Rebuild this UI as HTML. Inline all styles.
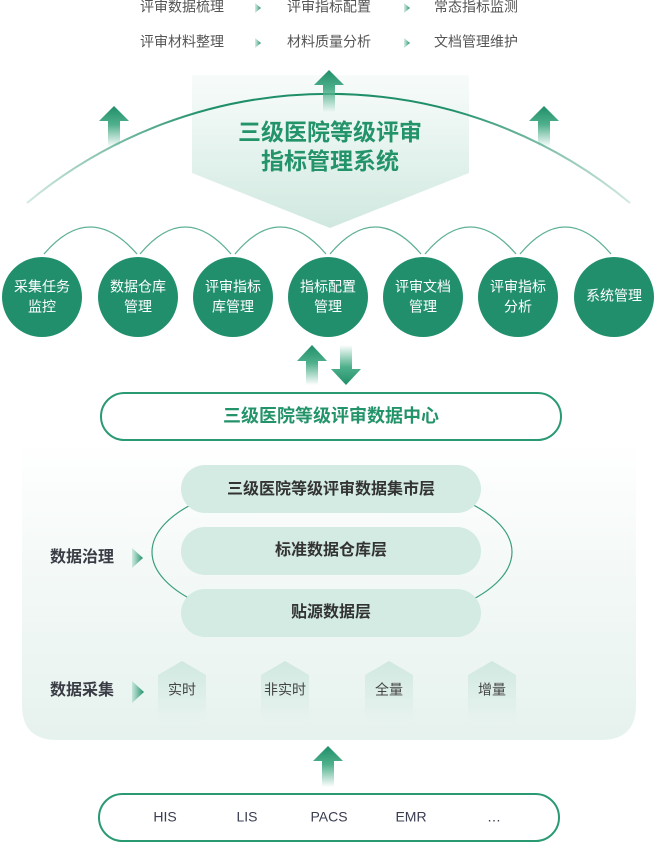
<!DOCTYPE html>
<html><head><meta charset="utf-8"><style>
body{margin:0;background:#fff;}
svg text{font-family:"Liberation Sans","Noto Sans CJK SC",sans-serif;}
</style></head><body>
<svg width="658" height="843" viewBox="0 0 658 843" xmlns="http://www.w3.org/2000/svg">
<defs>
<linearGradient id="up" x1="0" y1="0" x2="0" y2="1"><stop offset="0" stop-color="#1f8f68"/><stop offset="0.45" stop-color="#4fb08c"/><stop offset="1" stop-color="#4fb08c" stop-opacity="0"/></linearGradient>
<linearGradient id="dn" x1="0" y1="1" x2="0" y2="0"><stop offset="0" stop-color="#1f8f68"/><stop offset="0.45" stop-color="#4fb08c"/><stop offset="1" stop-color="#4fb08c" stop-opacity="0"/></linearGradient>
<linearGradient id="chev" x1="0" y1="0" x2="0" y2="1"><stop offset="0" stop-color="#d8ede5" stop-opacity="0.2"/><stop offset="1" stop-color="#cfe8df"/></linearGradient>
<linearGradient id="panel" x1="0" y1="0" x2="0" y2="1"><stop offset="0" stop-color="#ffffff"/><stop offset="0.5" stop-color="#f2f8f6"/><stop offset="1" stop-color="#e6f2ee"/></linearGradient>
<linearGradient id="house" x1="0" y1="0" x2="0" y2="1"><stop offset="0" stop-color="#cfe8df"/><stop offset="1" stop-color="#cfe8df" stop-opacity="0"/></linearGradient>
<linearGradient id="tri" x1="0" y1="0" x2="1" y2="0"><stop offset="0" stop-color="#3aa57f" stop-opacity="0.2"/><stop offset="1" stop-color="#1f8f68"/></linearGradient>
<linearGradient id="arcg" x1="0" y1="0" x2="1" y2="0"><stop offset="0" stop-color="#1f8f68" stop-opacity="0.2"/><stop offset="0.3" stop-color="#1f8f68"/><stop offset="0.7" stop-color="#1f8f68"/><stop offset="1" stop-color="#1f8f68" stop-opacity="0.2"/></linearGradient>
</defs>

<!-- top text -->
<g font-size="14" fill="#555" dominant-baseline="middle">
<text x="140" y="8">评审数据梳理</text><text x="287" y="8">评审指标配置</text><text x="434" y="8">常态指标监测</text>
<text x="140" y="43">评审材料整理</text><text x="287" y="43">材料质量分析</text><text x="434" y="43">文档管理维护</text>
</g>
<g fill="url(#tri)">
<polygon points="255,3 261,8 255,13"/><polygon points="404,3 410,8 404,13"/>
<polygon points="255,38 261,43 255,48"/><polygon points="404,38 410,43 404,48"/>
</g>

<!-- chevron -->
<polygon points="192,75 469,75 469,173 330,228 192,173" fill="url(#chev)"/>
<!-- big arc -->
<path d="M27,203 A471,471 0 0 1 630,203" fill="none" stroke="url(#arcg)" stroke-width="2"/>
<!-- up arrows -->
<g fill="url(#up)">
<polygon points="329,70 344,85 335,85 335,112 323,112 323,85 314,85"/>
<polygon points="114,106 129,121 120,121 120,147 108,147 108,121 99,121"/>
<polygon points="544,106 559,121 550,121 550,147 538,147 538,121 529,121"/>
</g>
<g font-size="23" font-weight="bold" fill="#23936a" text-anchor="middle" dominant-baseline="middle">
<text x="330" y="134">三级医院等级评审</text><text x="330" y="163">指标管理系统</text>
</g>

<!-- small arcs -->
<g fill="none" stroke="#3a9e7b" stroke-width="1.3" opacity="0.8">
<path d="M44,254 Q90,200 137,254"/><path d="M140,254 Q185,200 231,254"/><path d="M235,254 Q280,200 326,254"/>
<path d="M330,254 Q375,200 421,254"/><path d="M425,254 Q470,200 516,254"/><path d="M520,254 Q565,200 611,254"/>
</g>
<!-- circles -->
<g fill="#218f6c">
<circle cx="42" cy="297" r="40"/><circle cx="138" cy="297" r="40"/><circle cx="233" cy="297" r="40"/>
<circle cx="328" cy="297" r="40"/><circle cx="423" cy="297" r="40"/><circle cx="518" cy="297" r="40"/><circle cx="614" cy="297" r="40"/>
</g>
<g font-size="14" fill="#fff" text-anchor="middle" dominant-baseline="middle">
<text x="42" y="288">采集任务</text><text x="42" y="308">监控</text>
<text x="138" y="288">数据仓库</text><text x="138" y="308">管理</text>
<text x="233" y="288">评审指标</text><text x="233" y="308">库管理</text>
<text x="328" y="288">指标配置</text><text x="328" y="308">管理</text>
<text x="423" y="288">评审文档</text><text x="423" y="308">管理</text>
<text x="518" y="288">评审指标</text><text x="518" y="308">分析</text>
<text x="614" y="297">系统管理</text>
</g>

<!-- up/down arrows -->
<polygon points="312,345 327,361 318,361 318,385 306,385 306,361 297,361" fill="url(#up)"/>
<polygon points="346,385 361,369 352,369 352,345 340,345 340,369 331,369" fill="url(#dn)"/>

<!-- panel -->
<path d="M22,440 L636,440 L636,705 Q636,740 601,740 L57,740 Q22,740 22,705 Z" fill="url(#panel)"/>

<!-- data center pill -->
<rect x="101" y="393" width="460" height="47" rx="23.5" fill="#fff" stroke="#2a9a72" stroke-width="2"/>
<text x="331" y="417" font-size="18" font-weight="bold" fill="#23936a" text-anchor="middle" dominant-baseline="middle">三级医院等级评审数据中心</text>

<!-- ellipse behind layers -->
<ellipse cx="332" cy="552" rx="180" ry="76" fill="none" stroke="#3a9e7b" stroke-width="1.2"/>
<g fill="#d3ebe3">
<rect x="181" y="465" width="300" height="48" rx="24"/>
<rect x="181" y="527" width="300" height="48" rx="24"/>
<rect x="181" y="589" width="300" height="48" rx="24"/>
</g>
<g font-size="16" font-weight="bold" fill="#333" text-anchor="middle" dominant-baseline="middle">
<text x="331" y="490">三级医院等级评审数据集市层</text>
<text x="331" y="551">标准数据仓库层</text>
<text x="331" y="613">贴源数据层</text>
</g>

<g font-size="16" font-weight="bold" fill="#3a3d45" dominant-baseline="middle">
<text x="50" y="558">数据治理</text><text x="50" y="691">数据采集</text>
</g>
<polygon points="132,548 143,558 132,568" fill="url(#tri)"/>
<polygon points="132,681 144,692 132,703" fill="url(#tri)"/>

<!-- houses -->
<g fill="url(#house)">
<polygon points="182,661 206,675 206,722 158,722 158,675"/>
<polygon points="285,661 309,675 309,722 261,722 261,675"/>
<polygon points="389,661 413,675 413,722 365,722 365,675"/>
<polygon points="492,661 516,675 516,722 468,722 468,675"/>
</g>
<g font-size="14" fill="#444" text-anchor="middle" dominant-baseline="middle">
<text x="182" y="691">实时</text><text x="285" y="691">非实时</text><text x="389" y="691">全量</text><text x="492" y="691">增量</text>
</g>

<!-- bottom arrow -->
<polygon points="328,746 343,761 334,761 334,787 322,787 322,761 313,761" fill="url(#up)"/>
<rect x="99" y="794" width="460" height="47" rx="23.5" fill="#fff" stroke="#2a9a72" stroke-width="2"/>
<g font-size="14" fill="#3a3d50" text-anchor="middle" dominant-baseline="middle">
<text x="165" y="818">HIS</text><text x="247" y="818">LIS</text><text x="329" y="818">PACS</text><text x="411" y="818">EMR</text><text x="494" y="818">…</text>
</g>
</svg>
</body></html>
